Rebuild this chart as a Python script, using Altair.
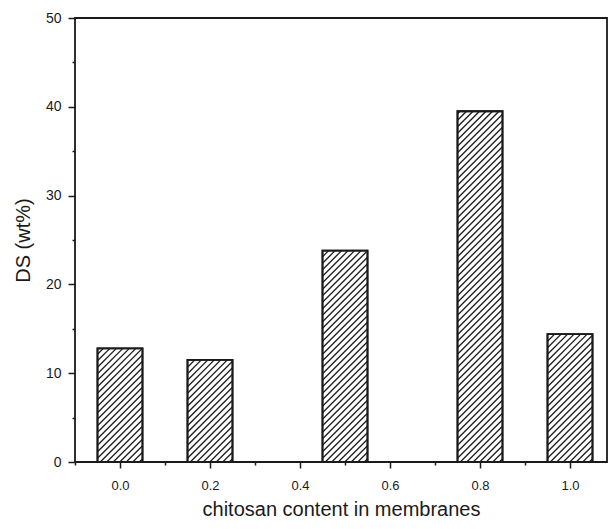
import altair as alt
import pandas as pd

# data
content = [0.0, 0.2, 0.5, 0.8, 1.0]
ds = [12.8, 11.5, 23.8, 39.5, 14.4]
x_major = [0.0, 0.2, 0.4, 0.6, 0.8, 1.0]
x_minor = [-0.1, 0.1, 0.3, 0.5, 0.7, 0.9]
y_major = [0, 10, 20, 30, 40, 50]
y_minor = [5, 15, 25, 35, 45]

W, H = 532, 444
XD = [-0.1, 1.0822]
YD = [0, 50]
BAR_W = 0.1

bars = pd.DataFrame({"c": content, "v": ds})
bars["x0"] = bars["c"] - BAR_W / 2
bars["x1"] = bars["c"] + BAR_W / 2

# hatch segments derived from bar data (45 degree lines in pixel space)
pxx = W / (XD[1] - XD[0])
pxy = H / (YD[1] - YD[0])
step = 6.5
rows = []
for c, v in zip(content, ds):
    bw = BAR_W * pxx
    bh = v * pxy
    k = -bw + step / 2
    while k < bh:
        lo = max(0.0, -k)
        hi = min(bw, bh - k)
        if hi > lo:
            rows.append({
                "hx": c - BAR_W / 2 + lo / pxx, "hy": (lo + k) / pxy,
                "hx2": c - BAR_W / 2 + hi / pxx, "hy2": (hi + k) / pxy,
            })
        k += step
hatch = pd.DataFrame(rows)

font = "Liberation Sans"
ink = "#1a1a1a"
xs = alt.Scale(domain=XD, nice=False, zero=False)
ys = alt.Scale(domain=YD, nice=False)

x_axis = alt.Axis(values=x_major, format=".1f", tickSize=6, tickWidth=1.5, tickColor=ink,
                  domain=False, grid=False, labelFont=font, labelFontSize=13, labelColor=ink,
                  labelPadding=11, title="chitosan content in membranes", titleFont=font,
                  titleFontSize=20, titleFontWeight="normal", titleColor=ink, titlePadding=7,
                  orient="bottom")
y_axis = alt.Axis(values=y_major, format="d", tickSize=7, tickWidth=1.5, tickColor=ink,
                  domain=False, grid=False, labelFont=font, labelFontSize=14, labelColor=ink,
                  labelPadding=7, title="DS (wt%)", titleFont=font, titleFontSize=20,
                  titleFontWeight="normal", titleColor=ink, titlePadding=12, orient="left")

bar_layer = alt.Chart(bars).mark_bar(fill="white", stroke=ink, strokeWidth=1.8).encode(
    x=alt.X("x0:Q", scale=xs, axis=x_axis),
    x2="x1:Q",
    y=alt.Y("v:Q", scale=ys, axis=y_axis),
    y2=alt.datum(0),
)

hatch_layer = alt.Chart(hatch).mark_rule(stroke=ink, strokeWidth=1.3, clip=True).encode(
    x=alt.X("hx:Q", scale=xs, axis=None),
    x2="hx2:Q",
    y=alt.Y("hy:Q", scale=ys, axis=None),
    y2="hy2:Q",
)

outline_layer = alt.Chart(bars).mark_bar(fill=None, stroke=ink, strokeWidth=1.8).encode(
    x=alt.X("x0:Q", scale=xs, axis=None),
    x2="x1:Q",
    y=alt.Y("v:Q", scale=ys, axis=None),
    y2=alt.datum(0),
)

minor_df = pd.DataFrame({"mx": [x_minor[0]], "my": [y_minor[0]]})
minor_layer = alt.Chart(minor_df).mark_point(opacity=0).encode(
    x=alt.X("mx:Q", scale=xs, axis=alt.Axis(values=x_minor, tickSize=3, tickWidth=1.5,
                                            tickColor=ink, labels=False, domain=False,
                                            grid=False, title=None, orient="bottom")),
    y=alt.Y("my:Q", scale=ys, axis=alt.Axis(values=y_minor, tickSize=3, tickWidth=1.5,
                                            tickColor=ink, labels=False, domain=False,
                                            grid=False, title=None, orient="left")),
)

chart = alt.layer(bar_layer, hatch_layer, outline_layer, minor_layer).resolve_axis(
    x="independent", y="independent"
).properties(
    width=W, height=H,
    autosize=alt.AutoSizeParams(type="none"),
    padding={"left": 67, "top": 10, "right": 1, "bottom": 59},
    background="white",
).configure_view(stroke=ink, strokeWidth=1.8)

chart.save("out.html", embed_options={"renderer": "svg", "actions": False})
